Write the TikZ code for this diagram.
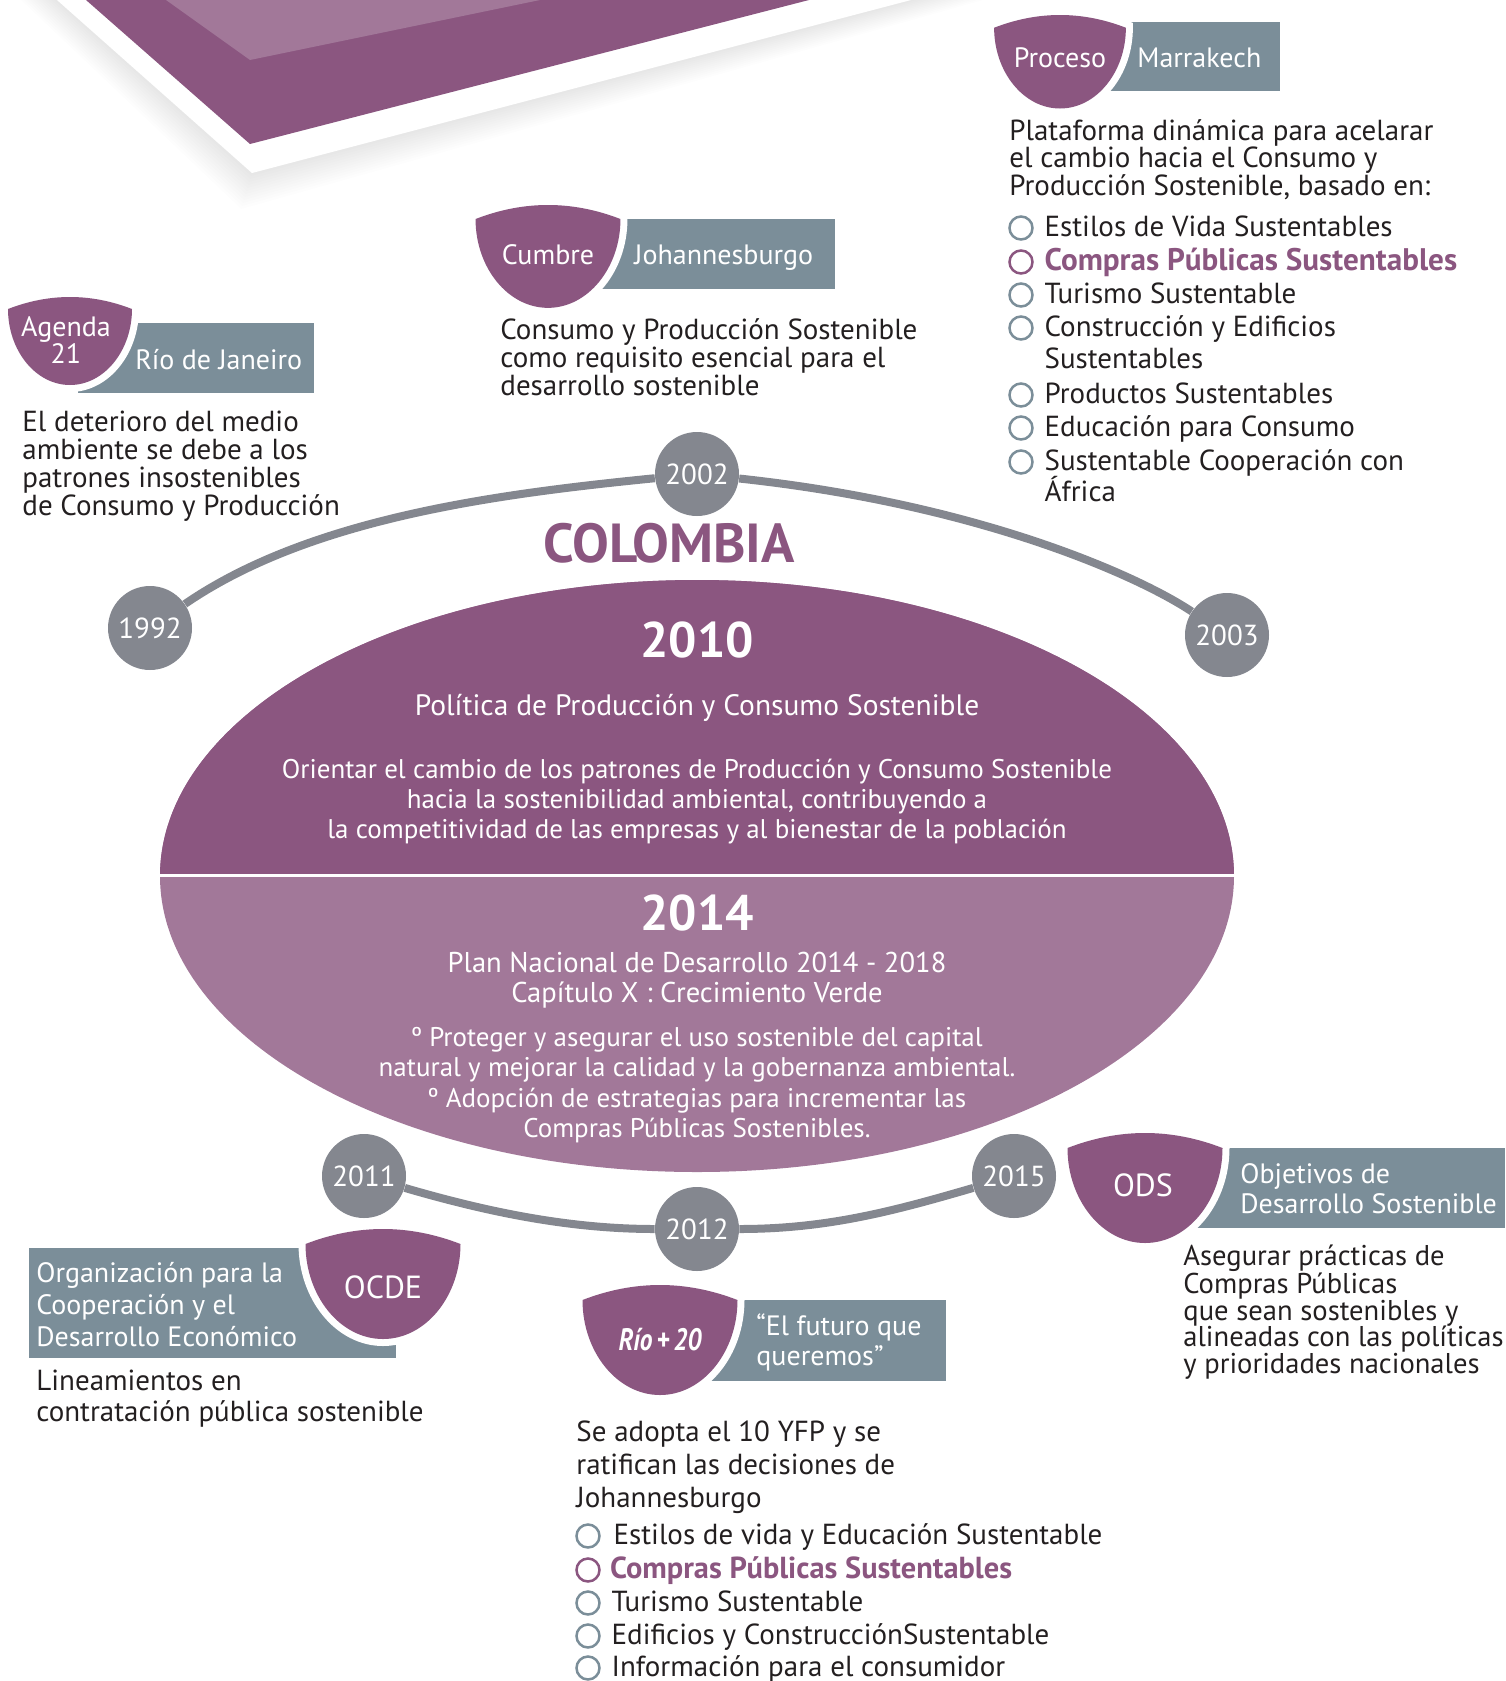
\documentclass[tikz,border=0pt]{standalone}
\usepackage{fontspec}
\setmainfont{PT Sans}
\usetikzlibrary{positioning}

\definecolor{purp}{HTML}{8B5680}
\definecolor{lpurp}{HTML}{A27899}
\definecolor{slate}{HTML}{7B8E99}
\definecolor{yeargray}{HTML}{84878F}
\definecolor{ink}{HTML}{231F20}

\tikzset{
  shield/.pic={
    \path[fill=purp, preaction={draw=white, line width=7pt}]
      (-77.5,15) .. controls (-26,-5) and (26,-5) .. (77.5,15)
      .. controls (77.5,67) and (42.8,110) .. (0,110)
      .. controls (-42.8,110) and (-77.5,67) .. (-77.5,15) -- cycle;
  }
}

\begin{document}
\begin{tikzpicture}[x=0.5pt, y=-0.5pt,
    year/.style={circle, fill=yeargray, text=white, minimum size=42pt, inner sep=0pt,
      font=\fontsize{14.5}{16}\selectfont},
    tline/.style={draw=yeargray, line width=4pt},
    badge/.style={text=white, align=center, inner sep=0pt, font=\fontsize{14}{12.5}\selectfont},
    tag/.style={text=white, anchor=west, inner sep=0pt, text height=10.5pt, text depth=3pt,
      font=\fontsize{14}{15}\selectfont},
    tagbox/.style={text=white, anchor=north west, align=left, inner sep=0pt,
      font=\fontsize{14}{15}\selectfont},
    body/.style={text=ink, anchor=north west, align=left, inner sep=0pt,
      font=\fontsize{14.5}{14}\selectfont},
    bul/.style={circle, draw=slate, line width=1.25pt, minimum size=11.5pt, inner sep=0pt},
    item/.style={text=ink, anchor=west, inner sep=0pt, text height=11pt, text depth=3pt,
      font=\fontsize{14.5}{16}\selectfont},
    cpstext/.style={text=purp, font=\fontsize{15.6}{16}\selectfont\bfseries},
    ovaltext/.style={text=white, align=center, inner sep=0pt, font=\fontsize{13.5}{15}\selectfont},
    bigyear/.style={text=white, inner sep=0pt, font=\fontsize{25}{25}\selectfont\bfseries}]

\clip (0,0) rectangle (1505,1681);

% folded sheet in the corner
\foreach \d in {36,33,...,3}
  \fill[black, opacity=0.009] (57-\d,0) -- (252-0.3*\d,173+\d) -- (911+2*\d,0) -- cycle;
\fill[white] (57,0) -- (252,173) -- (911,0) -- cycle;
\fill[purp] (86,0) -- (250,144) -- (809,0) -- cycle;
\fill[lpurp] (166,0) -- (250,60) -- (540,0) -- cycle;

% central oval
\fill[lpurp] (697,876) ellipse [x radius=537, y radius=296];
\begin{scope}
  \clip (150,570) rectangle (1250,875);
  \fill[purp] (697,876) ellipse [x radius=537, y radius=296];
\end{scope}
\draw[white, line width=1.5pt] (160,875) -- (1235,875);

\node[text=purp, inner sep=0pt, font=\fontsize{27.5}{27}\selectfont\bfseries] (colombia) at (669,543) {COLOMBIA};
\node[bigyear] (p2010) at (697,640) {2010};
\node[ovaltext, font=\fontsize{14.75}{15}\selectfont] (politica) at (697,708) {Política de Producción y Consumo Sostenible};
\node[ovaltext] (orientar) at (697,802) {Orientar el cambio de los patrones de Producción y Consumo Sostenible\\hacia la sostenibilidad ambiental, contribuyendo a\\la competitividad de las empresas y al bienestar de la población};
\node[bigyear] (p2014) at (697,913) {2014};
\node[ovaltext, font=\fontsize{14.3}{15}\selectfont] (plan) at (697,980) {Plan Nacional de Desarrollo 2014 - 2018\\Capítulo X : Crecimiento Verde};
\node[ovaltext, font=\fontsize{13.5}{15.25}\selectfont] (metas) at (697,1085) {º Proteger y asegurar el uso sostenible del capital\\natural y mejorar la calidad y la gobernanza ambiental.\\º Adopción de estrategias para incrementar las\\Compras Públicas Sostenibles.};

% time line
\node[year] (y1992) at (150,628) {1992};
\node[year] (y2002) at (697,474) {2002};
\node[year] (y2003) at (1227,635) {2003};
\node[year] (y2011) at (364,1176) {2011};
\node[year] (y2012) at (697,1229) {2012};
\node[year] (y2015) at (1014,1176) {2015};

\draw[tline] (y1992) .. controls +(160,-110) and +(-200,20) .. (y2002);
\draw[tline] (y2002) .. controls +(280,30) and +(-90,-60) .. (y2003);
\draw[tline] (y2011) .. controls +(120,35) and +(-130,0) .. (y2012);
\draw[tline] (y2012) .. controls +(130,0) and +(-120,35) .. (y2015);

% Agenda 21
\fill[slate] (78,323) rectangle (314,393);
\pic[scale=0.8] at (70,297) {shield};
\node[badge] (agenda) at (66,340) {Agenda\\21};
\node[tag] (riojaneiro) at (135,362) {Río de Janeiro};
\node[body] (agendatxt) at (22,411) {El deterioro del medio\\ambiente se debe a los\\patrones insostenibles\\de Consumo y Producción};

% Cumbre Johannesburgo
\fill[slate] (600,219) rectangle (835,289);
\pic[scale=0.935] at (548,205) {shield};
\node[badge] (cumbre) at (548,255) {Cumbre};
\node[tag] (johannesburgo) at (634,257) {Johannesburgo};
\node[body] (cumbretxt) at (500,318) {Consumo y Producción Sostenible\\como requisito esencial para el\\desarrollo sostenible};

% Proceso Marrakech
\fill[slate] (1105,22) rectangle (1280,91);
\pic[scale=0.85] at (1060,15) {shield};
\node[badge] (proceso) at (1060,58) {Proceso};
\node[tag] (marrakech) at (1137,60) {Marrakech};
\node[body, font=\fontsize{14.5}{13.75}\selectfont] (marrakechtxt) at (1009,119) {Plataforma dinámica para acelarar\\el cambio hacia el Consumo y\\Producción Sostenible, basado en:};

\node[bul] (mk1) at (1021,228) {};
\node[item, right=5.25pt of mk1] (mk1t) {Estilos de Vida Sustentables};
\node[bul, draw=purp] (mk2) at (1021,262) {};
\node[item, cpstext, right=5.25pt of mk2] (mk2t) {Compras Públicas Sustentables};
\node[bul] (mk3) at (1021,295) {};
\node[item, right=5.25pt of mk3] (mk3t) {Turismo Sustentable};
\node[bul] (mk4) at (1021,328) {};
\node[item, right=5.25pt of mk4] (mk4t) {Construcción y Edificios};
\node[item] (mk4u) at ([yshift=-16pt]mk4t.west) {Sustentables};
\node[bul] (mk5) at (1021,395) {};
\node[item, right=5.25pt of mk5] (mk5t) {Productos Sustentables};
\node[bul] (mk6) at (1021,428) {};
\node[item, right=5.25pt of mk6] (mk6t) {Educación para Consumo};
\node[bul] (mk7) at (1021,462) {};
\node[item, right=5.25pt of mk7] (mk7t) {Sustentable Cooperación con};
\node[item] (mk7u) at ([yshift=-15.5pt]mk7t.west) {África};

% OCDE
\fill[slate] (29,1248) rectangle (396,1358);
\pic at (383,1229) {shield};
\node[badge, font=\fontsize{16}{16}\selectfont] (ocde) at (383,1287) {OCDE};
\node[tagbox, font=\fontsize{14}{16}\selectfont] (ocdename) at (36,1262) {Organización para la\\Cooperación y el\\Desarrollo Económico};
\node[body, font=\fontsize{14.5}{15.5}\selectfont] (ocdetxt) at (36,1370) {Lineamientos en\\contratación pública sostenible};

% Rio + 20
\fill[slate] (710,1300) rectangle (946,1381);
\pic at (660,1285) {shield};
\node[badge] (rio20) at (660,1340) {\scalebox{0.82}[1]{\fontsize{15.5}{15}\selectfont\bfseries\itshape Río\,+\,20}};
\node[tagbox] (futuro) at (756,1313) {“El futuro que\\queremos”};
\node[body, font=\fontsize{14.5}{16.5}\selectfont] (rio20txt) at (576,1420) {Se adopta el 10 YFP y se\\ratifican las decisiones de\\Johannesburgo};

\node[bul] (rp1) at (588,1536) {};
\node[item, right=6.25pt of rp1] (rp1t) {Estilos de vida y Educación Sustentable};
\node[bul, draw=purp] (rp2) at (588,1570) {};
\node[item, cpstext, font=\fontsize{15.2}{16}\selectfont\bfseries, right=4.5pt of rp2] (rp2t) {Compras Públicas Sustentables};
\node[bul] (rp3) at (588,1603) {};
\node[item, right=5.25pt of rp3] (rp3t) {Turismo Sustentable};
\node[bul] (rp4) at (588,1636) {};
\node[item, right=5.25pt of rp4] (rp4t) {Edificios y ConstrucciónSustentable};
\node[bul] (rp5) at (588,1668) {};
\node[item, right=5.25pt of rp5] (rp5t) {Información para el consumidor};

% ODS
\fill[slate] (1192,1148) rectangle (1505,1228);
\pic at (1145,1133) {shield};
\node[badge, font=\fontsize{16}{16}\selectfont] (ods) at (1143,1185) {ODS};
\node[tagbox] (odsname) at (1240,1163) {Objetivos de\\Desarrollo Sostenible};
\node[body, font=\fontsize{14.3}{13.25}\selectfont] (odstxt) at (1183,1244) {Asegurar prácticas de\\Compras Públicas\\que sean sostenibles y\\alineadas con las políticas\\y prioridades nacionales};

\end{tikzpicture}
\end{document}
